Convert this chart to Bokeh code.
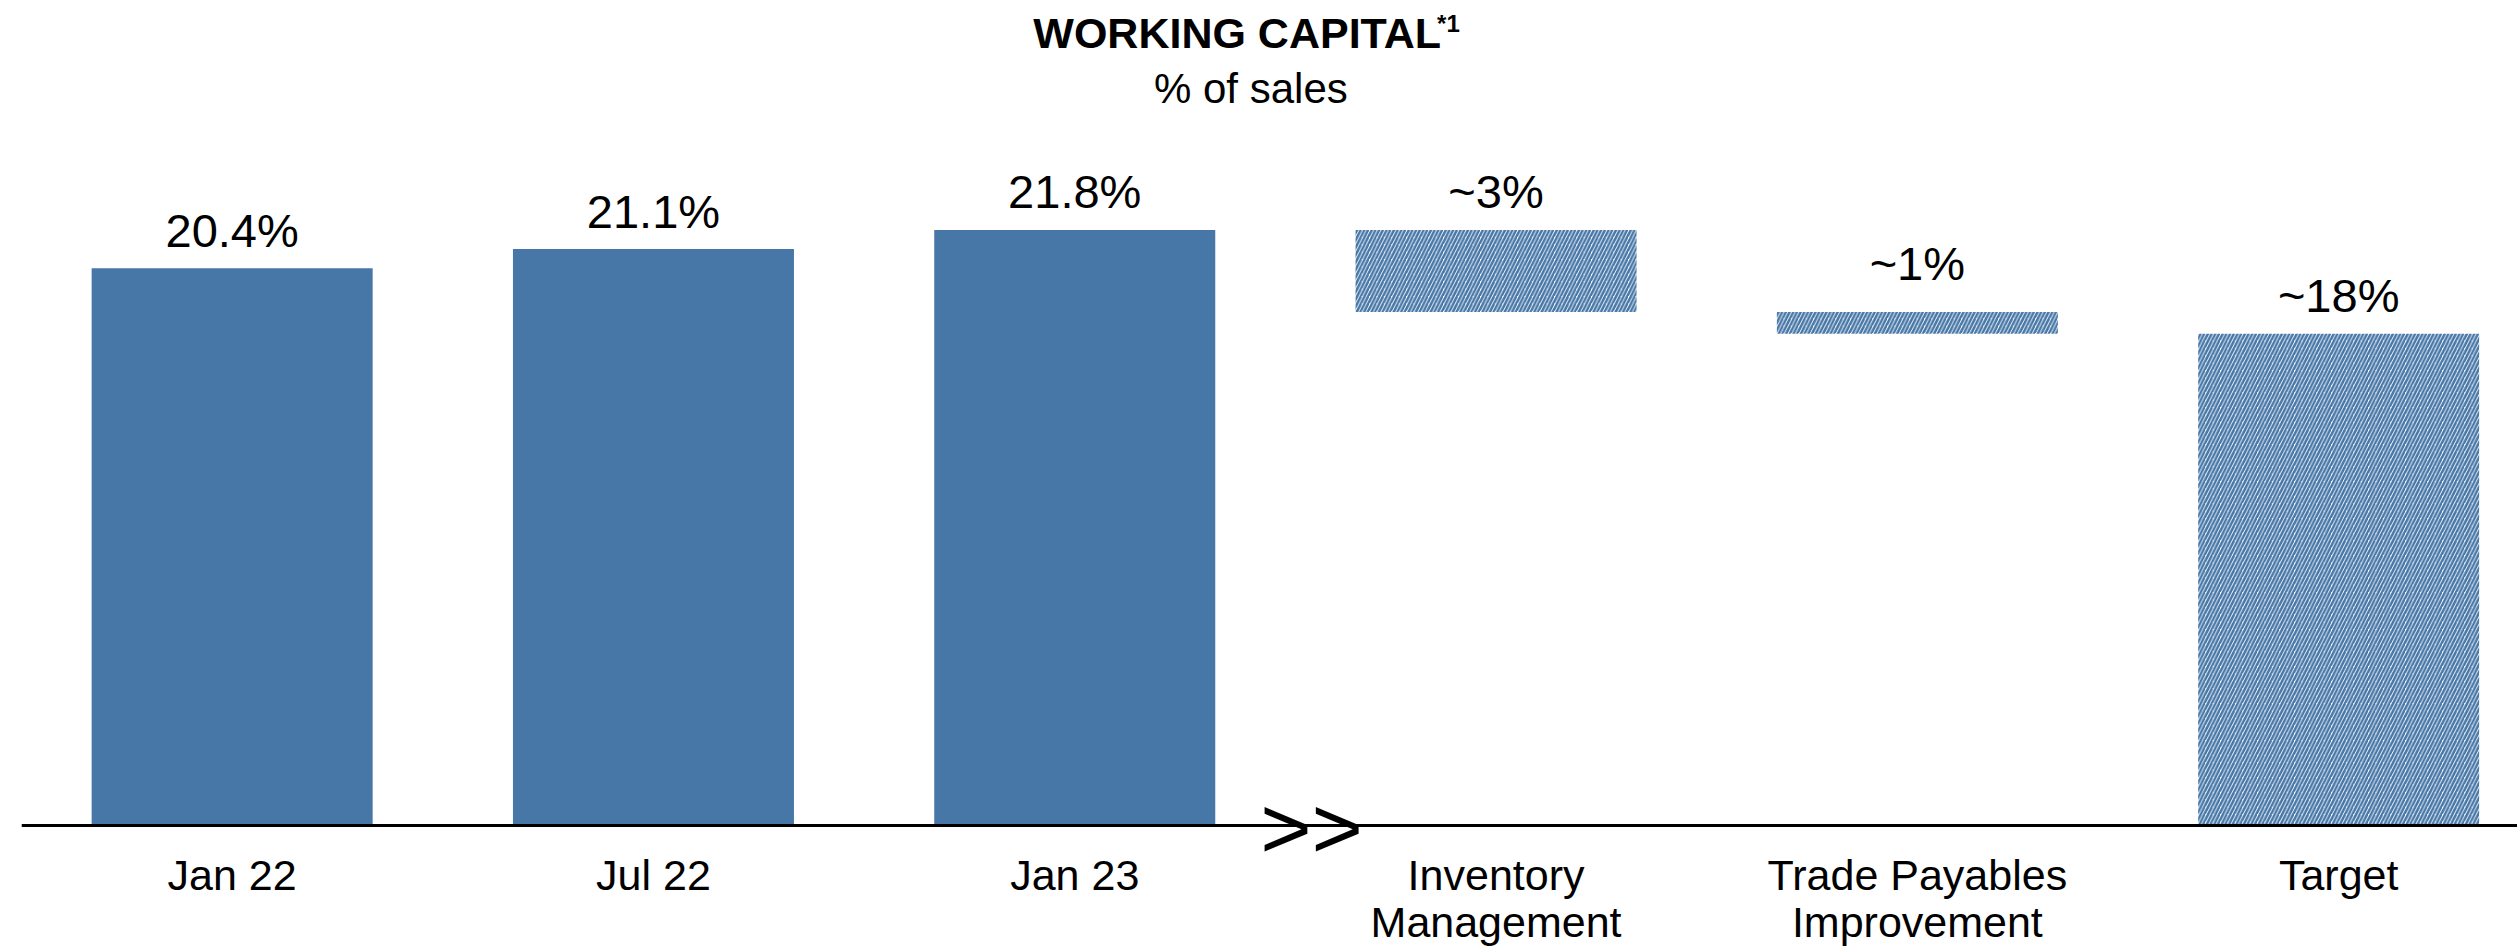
from bokeh.plotting import figure
from bokeh.models import ColumnDataSource, Range1d, Span
from bokeh.core.properties import value
from bokeh.embed import file_html
from bokeh.resources import INLINE

# ---------------- data ----------------
categories = ["Jan 22", "Jul 22", "Jan 23",
              "Inventory\nManagement", "Trade Payables\nImprovement", "Target"]
actual_values = [20.4, 21.1, 21.8]          # % of sales
inventory_reduction = 3.0                    # ~3%
trade_payables_reduction = 0.8               # ~1%
target_value = 18.0                          # ~18%
value_labels = ["20.4%", "21.1%", "21.8%", "~3%", "~1%", "~18%"]

# ---------------- waterfall geometry from data ----------------
xs = list(range(len(categories)))
inv_top = actual_values[-1]
inv_bottom = inv_top - inventory_reduction
tp_top = inv_bottom
tp_bottom = tp_top - trade_payables_reduction
tops = actual_values + [inv_top, tp_top, target_value]
bottoms = [0, 0, 0, inv_bottom, tp_bottom, 0]

FONT = "Liberation Sans"
BLUE = "#4777A7"

solid = ColumnDataSource(dict(x=xs[:3], top=tops[:3], bottom=bottoms[:3]))
hatched = ColumnDataSource(dict(x=xs[3:], top=tops[3:], bottom=bottoms[3:]))

label_offsets = [-38, -38, -38, -38, -48, -38]
labels_src = ColumnDataSource(dict(x=xs, y=tops, text=value_labels, yoff=label_offsets))

line1 = [c.split("\n")[0] for c in categories]
line2 = [c.split("\n")[1] if "\n" in c else "" for c in categories]
cat_src = ColumnDataSource(dict(x=xs, l1=line1, l2=line2))

p = figure(width=2517, height=948,
           x_range=Range1d(-0.5, 5.4245), y_range=Range1d(-4.502, 30.198),
           output_backend="svg", toolbar_location=None,
           x_axis_location=None, y_axis_location=None,
           min_border_left=21, min_border_right=0,
           min_border_top=0, min_border_bottom=0)
p.grid.visible = False
p.outline_line_color = None
p.background_fill_color = "white"
p.border_fill_color = "white"

BAR_W = 0.667
p.vbar(x="x", top="top", bottom="bottom", width=BAR_W, source=solid,
       fill_color=BLUE, line_color=None)
p.vbar(x="x", top="top", bottom="bottom", width=BAR_W, source=hatched,
       fill_color="white", line_color=None,
       hatch_pattern="/", hatch_color=BLUE, hatch_scale=7.4, hatch_weight=2.5)

# axis baseline
p.add_layout(Span(location=0, dimension="width", line_color="black", line_width=3))

# value labels
p.text(x="x", y="y", text="text", y_offset="yoff", source=labels_src,
       text_align="center", text_baseline="middle",
       text_font=value(FONT), text_font_size="47px", text_color="black")

# category labels (two lines)
p.text(x="x", y=-1.812, text="l1", source=cat_src,
       text_align="center", text_baseline="middle",
       text_font=value(FONT), text_font_size="43px", text_color="black")
p.text(x="x", y=-3.514, text="l2", source=cat_src,
       text_align="center", text_baseline="middle",
       text_font=value(FONT), text_font_size="43px", text_color="black")

# break marker
p.text(x=[2.562], y=[-0.09], text=[">>"], text_align="center", text_baseline="middle",
       text_font=value(FONT), text_font_size="88px", text_color="black")

# title block
p.text(x=[2.3855], y=[29.01], text=["WORKING CAPITAL"], text_align="center",
       text_baseline="middle", text_font=value(FONT), text_font_size="43px",
       text_font_style="bold", text_color="black")
p.text(x=[2.86], y=[29.34], text=["*1"], text_align="left",
       text_baseline="middle", text_font=value(FONT), text_font_size="24px",
       text_font_style="bold", text_color="black")
p.text(x=[2.418], y=[26.98], text=["% of sales"], text_align="center",
       text_baseline="middle", text_font=value(FONT), text_font_size="42px",
       text_color="black")

open("out.html", "w").write(file_html(p, INLINE))
